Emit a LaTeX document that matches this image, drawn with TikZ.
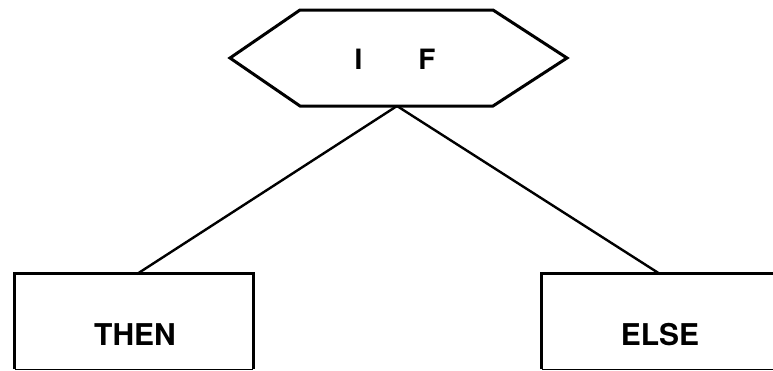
\documentclass[tikz,border=0pt]{standalone}
\usepackage{fontspec}
\setmainfont{TeX Gyre Heros}
\begin{document}
\begin{tikzpicture}[x=1pt,y=-1pt,
  edge/.style={line width=3pt, line join=miter, line cap=butt},
  thinedge/.style={line width=1pt},
  label/.style={inner sep=0pt, font=\fontsize{30}{30}\selectfont\bfseries},
  boxarea/.style={inner sep=0pt, minimum width=238pt, minimum height=95pt}]
\useasboundingbox (0,0) rectangle (773,370);
\clip (0,0) rectangle (773,370);
% hexagon
\coordinate (hl) at (230,58);
\coordinate (htl) at (300,10);
\coordinate (htr) at (493,10);
\coordinate (hr) at (567,58);
\coordinate (hbr) at (493,106);
\coordinate (hbl) at (300,106);
\draw[edge] (hl) -- (htl) -- (htr) -- (hr) -- (hbr) -- (hbl) -- cycle;
\node[label, font=\fontsize{28}{28}\selectfont\bfseries] (if) at (395,59) {I\hspace{56pt}F};
\coordinate (ifb) at (397,106);
% boxes
\node[boxarea] (then) at (134,321.5) {};
\node[label] (thent) at (135,345) [anchor=base] {THEN};
\node[boxarea] (else) at (661,321.5) {};
\node[label] (elset) at (660,345) [anchor=base] {ELSE};
\draw[edge] (then.south west) |- (then.north east) -- (then.south east);
\draw[thinedge] (then.south west) -- (then.south east);
\draw[edge] (else.south west) |- (else.north east);
\draw[thinedge] (else.south west) -- (else.south east);
% connectors
\coordinate (tc) at (137,274);
\coordinate (ec) at (660,274);
\draw[edge, line width=2.4pt] (ifb) -- (tc);
\draw[edge, line width=2.4pt] (ifb) -- (ec);
\end{tikzpicture}
\end{document}
